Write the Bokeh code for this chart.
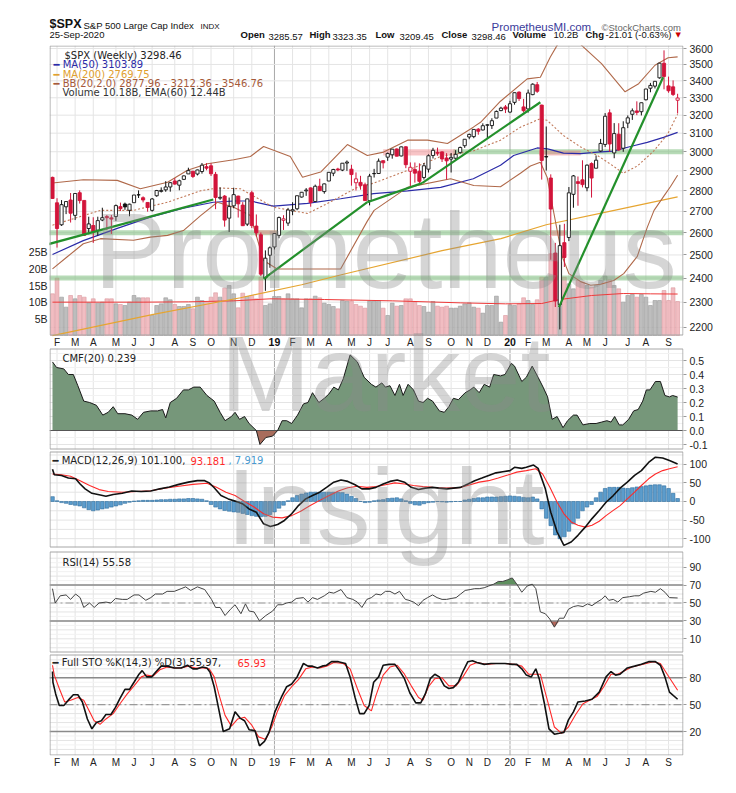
import numpy as np
import pandas as pd
from bokeh.plotting import figure
from bokeh.layouts import column
from bokeh.models import Range1d, FixedTicker, LinearAxis, LinearScale, LogScale, Label
from bokeh.embed import file_html
from bokeh.resources import INLINE
from bokeh.core.properties import value

# ---------------------------------------------------------------- data
week_end = pd.date_range("2018-02-02", periods=139, freq="W-FRI")
month_labels = ["F", "M", "A", "M", "J", "J", "A", "S", "O", "N", "D", "19",
                "F", "M", "A", "M", "J", "J", "A", "S", "O", "N", "D", "20",
                "F", "M", "A", "M", "J", "J", "A", "S"]
price_ticks = [2200, 2300, 2400, 2500, 2600, 2700, 2800, 2900, 3000, 3100, 3200, 3300, 3400, 3500, 3600]
vol_ticks = [5, 10, 15, 20, 25]
vol_tick_labels = ["5B", "10B", "15B", "20B", "25B"]
cmf_ticks = [-0.1, 0.0, 0.1, 0.2, 0.3, 0.4, 0.5]
macd_ticks = [-100, -50, 0, 50, 100]
rsi_ticks = [10, 30, 50, 70, 90]
sto_ticks = [20, 50, 80]

open_ = [2867.2, 2741.1, 2636.8, 2722.0, 2754.7, 2681.1, 2790.5, 2752.7, 2619.4, 2633.5,
         2611.3, 2659.0, 2675.4, 2669.4, 2675.5, 2722.7, 2735.4, 2705.1, 2741.7, 2780.2,
         2765.8, 2742.9, 2704.9, 2775.6, 2796.9, 2804.6, 2819.0, 2849.0, 2827.9, 2857.0,
         2884.7, 2898.4, 2884.2, 2896.9, 2921.8, 2926.3, 2882.5, 2763.8, 2773.9, 2667.9,
         2726.4, 2773.9, 2730.1, 2640.0, 2790.5, 2630.9, 2590.8, 2400.6, 2498.9, 2535.6,
         2588.1, 2657.9, 2644.9, 2702.3, 2712.4, 2769.3, 2799.8, 2814.4, 2747.6, 2822.6,
         2796.0, 2848.6, 2888.3, 2909.9, 2904.3, 2940.6, 2908.9, 2840.2, 2841.9, 2830.0,
         2751.5, 2885.8, 2886.8, 2952.7, 2971.4, 2983.8, 3014.8, 2977.7, 3026.3, 2898.1,
         2907.1, 2898.4, 2866.7, 2909.0, 2980.3, 2996.4, 2999.2, 2967.1, 2961.3, 2965.8,
         2996.5, 3032.1, 3079.0, 3081.2, 3122.0, 3117.4, 3143.9, 3141.9, 3183.6, 3226.1,
         3247.2, 3217.6, 3273.4, 3333.1, 3247.2, 3235.7, 3318.3, 3377.0, 3257.6, 2974.3,
         2863.9, 2508.6, 2290.7, 2555.0, 2578.3, 2782.5, 2845.6, 2854.7, 2815.0, 2937.8,
         2913.9, 3004.1, 3038.8, 3213.3, 2993.8, 3094.4, 3018.6, 3155.3, 3205.1, 3224.3,
         3219.8, 3288.3, 3356.0, 3368.7, 3418.1, 3507.4, 3370.0, 3364.2, 3285.57]
high = [2870.6, 2763.4, 2754.4, 2747.8, 2789.2, 2786.6, 2801.9, 2752.7, 2674.8, 2672.1,
        2674.7, 2717.5, 2682.9, 2682.9, 2732.9, 2742.2, 2742.1, 2736.9, 2779.9, 2801.9,
        2772.6, 2743.3, 2764.4, 2804.3, 2816.8, 2848.0, 2843.2, 2863.4, 2855.6, 2876.2,
        2916.5, 2900.2, 2906.8, 2940.9, 2939.9, 2939.9, 2894.8, 2816.9, 2778.9, 2766.9,
        2815.2, 2775.9, 2744.4, 2760.9, 2800.2, 2685.4, 2601.1, 2520.3, 2538.1, 2597.8,
        2675.5, 2681.8, 2716.7, 2744.0, 2775.7, 2794.2, 2813.5, 2816.9, 2830.7, 2860.3,
        2836.0, 2893.4, 2910.5, 2916.1, 2939.9, 2954.1, 2931.6, 2892.2, 2875.0, 2840.5,
        2884.9, 2910.6, 2964.2, 2955.4, 2995.8, 3013.9, 3017.8, 3028.0, 3029.3, 2944.0,
        2943.3, 2939.1, 2940.4, 2985.9, 3020.7, 3022.0, 3002.4, 2992.5, 2993.3, 3008.3,
        3027.4, 3066.9, 3097.8, 3120.5, 3127.6, 3154.3, 3150.6, 3182.7, 3226.7, 3247.9,
        3258.1, 3282.1, 3329.9, 3337.8, 3293.5, 3348.0, 3385.1, 3393.5, 3259.8, 3136.7,
        2882.6, 2553.9, 2637.0, 2641.4, 2818.6, 2879.2, 2871.6, 2954.9, 2933.0, 2944.2,
        2980.3, 3068.7, 3211.7, 3233.1, 3155.5, 3154.9, 3165.8, 3198.6, 3238.3, 3279.3,
        3272.0, 3352.5, 3387.9, 3399.5, 3509.4, 3588.1, 3425.6, 3402.9, 3323.35]
low = [2760.0, 2532.7, 2631.6, 2687.0, 2647.3, 2658.9, 2737.6, 2585.9, 2593.1, 2553.8,
       2586.3, 2653.6, 2612.7, 2594.6, 2655.2, 2701.9, 2707.4, 2676.8, 2741.7, 2764.6,
       2743.2, 2698.7, 2698.9, 2770.5, 2791.5, 2795.1, 2795.6, 2829.9, 2802.5, 2853.6,
       2884.7, 2864.1, 2876.9, 2886.1, 2903.3, 2874.0, 2710.5, 2755.5, 2628.2, 2603.5,
       2715.0, 2670.8, 2631.1, 2631.1, 2621.5, 2583.2, 2408.6, 2346.6, 2444.0, 2524.6,
       2574.7, 2612.9, 2631.6, 2681.8, 2705.6, 2766.7, 2775.1, 2722.3, 2746.0, 2798.7,
       2785.7, 2848.6, 2873.3, 2898.6, 2898.9, 2900.5, 2825.4, 2801.4, 2805.5, 2750.5,
       2728.8, 2866.3, 2884.8, 2912.8, 2952.2, 2963.4, 2975.6, 2975.3, 2914.1, 2822.1,
       2840.6, 2835.0, 2856.0, 2891.9, 2964.2, 2978.9, 2946.0, 2856.0, 2891.9, 2952.9,
       2988.9, 3020.3, 3066.9, 3072.4, 3091.4, 3115.0, 3070.3, 3123.0, 3183.6, 3222.6,
       3212.0, 3214.6, 3260.0, 3281.5, 3214.7, 3214.6, 3315.0, 3328.5, 2855.8, 2901.5,
       2478.9, 2280.5, 2191.9, 2447.5, 2562.0, 2717.4, 2727.1, 2816.8, 2797.5, 2766.6,
       2913.9, 2999.5, 3025.2, 2999.5, 2965.7, 3004.6, 2999.7, 3127.7, 3173.4, 3200.1,
       3198.6, 3284.5, 3332.1, 3354.7, 3413.4, 3349.6, 3329.2, 3310.5, 3209.45]
close = [2762.13, 2619.55, 2732.22, 2747.30, 2691.25, 2786.57, 2752.01, 2588.26, 2640.87, 2604.47,
         2656.30, 2670.14, 2669.91, 2663.42, 2727.72, 2712.97, 2721.33, 2734.62, 2779.03, 2779.66,
         2754.88, 2718.37, 2759.82, 2801.31, 2801.83, 2818.82, 2840.35, 2833.28, 2850.13, 2874.69,
         2901.52, 2871.68, 2904.98, 2929.67, 2913.98, 2885.57, 2767.13, 2767.78, 2658.69, 2723.06,
         2781.01, 2736.27, 2632.56, 2760.17, 2633.08, 2599.95, 2416.62, 2485.74, 2531.94, 2596.26,
         2670.71, 2664.76, 2706.53, 2707.88, 2775.60, 2792.67, 2803.69, 2743.07, 2822.48, 2800.71,
         2834.40, 2892.74, 2907.41, 2905.03, 2939.88, 2945.64, 2881.40, 2859.53, 2826.06, 2752.06,
         2873.34, 2886.98, 2950.46, 2941.76, 2990.41, 3013.77, 2976.61, 3025.86, 2932.05, 2918.65,
         2888.68, 2847.11, 2926.46, 2978.71, 3007.39, 2992.07, 2961.79, 2952.01, 2970.27, 2986.20,
         3022.55, 3066.91, 3093.08, 3120.46, 3110.29, 3140.98, 3145.91, 3168.80, 3221.22, 3240.02,
         3234.85, 3265.35, 3329.62, 3295.47, 3225.52, 3327.71, 3380.16, 3337.75, 2954.22, 2972.37,
         2711.02, 2304.92, 2541.47, 2488.65, 2789.82, 2874.56, 2836.74, 2830.71, 2929.80, 2863.70,
         2955.45, 3044.31, 3193.93, 3041.31, 3097.74, 3009.05, 3130.01, 3185.04, 3224.73, 3215.63,
         3271.12, 3351.28, 3372.85, 3397.16, 3508.01, 3426.96, 3340.97, 3319.47, 3298.46]
volume_b = [12.5, 17.2, 11.5, 8.5, 12.0, 11.0, 12.0, 11.5, 9.8, 11.0,
            9.7, 10.0, 11.0, 11.0, 9.5, 9.3, 9.0, 10.0, 12.0, 11.3,
            11.3, 11.3, 6.0, 9.0, 9.5, 11.3, 10.7, 9.3, 8.7, 8.7,
            9.3, 8.0, 11.5, 10.5, 10.0, 11.5, 12.8, 11.5, 14.2, 15.0,
            12.5, 8.3, 12.7, 11.7, 12.0, 11.0, 17.5, 9.0, 9.5, 11.7,
            11.7, 11.0, 12.5, 11.0, 11.0, 8.3, 11.0, 11.0, 11.8, 11.3,
            9.7, 9.3, 8.7, 8.0, 10.5, 10.3, 10.3, 9.3, 8.8, 8.2,
            10.3, 10.3, 10.5, 8.2, 6.0, 9.7, 8.8, 9.0, 11.0, 11.0,
            10.0, 9.0, 8.7, 7.0, 10.2, 8.8, 8.5, 8.8, 8.2, 8.2,
            8.8, 9.5, 9.8, 8.5, 8.2, 6.7, 9.0, 9.0, 11.8, 4.0,
            6.0, 9.2, 9.0, 9.5, 11.3, 10.5, 9.3, 10.7, 17.5, 17.5,
            24.5, 22.5, 22.0, 17.5, 15.5, 14.0, 16.5, 16.0, 15.0, 14.5,
            15.0, 16.5, 17.8, 16.7, 15.0, 14.0, 10.0, 12.0, 12.3, 11.5,
            12.3, 11.5, 9.0, 10.5, 10.5, 13.5, 10.5, 14.3, 10.2]
vema_x = [0, 20, 30, 40, 48, 60, 75, 90, 100, 108, 112, 119, 126, 132, 138]
vema_v = [10.0, 10.0, 10.1, 10.4, 11.0, 10.8, 10.4, 9.8, 9.5, 9.6, 10.8, 12.0, 12.6, 12.5, 12.44]

ma50_x = [0, 6.8, 14.3, 21.6, 28.9, 35.5, 40, 43.7, 48.8, 56.3, 63.6, 70.9, 78.4, 85.7, 92.9, 98.9,
          101.8, 107, 109.3, 112.8, 116.6, 120.3, 123.8, 127.6, 131.3, 134.9, 138]
ma50_v = [2502, 2564, 2620, 2673, 2715, 2744, 2750, 2750, 2725, 2738, 2761, 2786, 2800, 2817, 2860, 2929,
          2980, 3020, 3015, 2993, 2990, 2998, 3003, 3028, 3050, 3077, 3104]
ma200_x = [0, 22, 41.5, 55, 64, 86, 99, 109, 124, 138]
ma200_v = [2168, 2250, 2318, 2372, 2415, 2519, 2573, 2637, 2705, 2770]
bbu_x = [0, 6.8, 14.3, 19.4, 25.4, 29.8, 34.2, 40, 43.7, 46.6, 52.5, 55.2, 59.2, 65.1, 69.5, 73.1,
         78.4, 82.8, 87.2, 92.9, 94.5, 98.9, 104.8, 107.7, 109.9, 111.4, 113.7, 116.8, 121.2, 126.4,
         129.4, 133.0, 135.9, 138]
bbu_v = [2839, 2855, 2852, 2810, 2843, 2903, 2937, 2958, 2975, 3028, 2975, 2868, 2894, 3038, 2980, 2998,
         3062, 3062, 3044, 3133, 3160, 3280, 3412, 3422, 3546, 3620, 3720, 3620, 3505, 3335,
         3383, 3495, 3542, 3547]
bbl_x = [0, 3.2, 6.8, 10.6, 17.9, 21.6, 25.4, 28.9, 32.7, 36.4, 40, 43.7, 46.6, 49.6, 63.6, 69.5, 71,
         78.4, 87.9, 93, 98.9, 103.3, 105.5, 107.7, 109.2, 110.7, 112.5, 114, 116.6, 118.8, 121,
         123.9, 126.1, 129.1, 131.3, 132.8, 135, 136.4, 138]
bbl_v = [2439, 2491, 2550, 2573, 2566, 2580, 2588, 2610, 2680, 2744, 2720, 2680, 2476, 2439, 2439, 2654, 2705,
         2817, 2860, 2826, 2820, 2888, 2925, 2945, 2868, 2690, 2494, 2419, 2385, 2370, 2374,
         2390, 2419, 2494, 2625, 2705, 2775, 2820, 2878]
bbm_x = [0, 10.6, 17.9, 25.4, 32.7, 36.4, 41.5, 48.8, 56.3, 60.7, 67.3, 70.9, 78.4, 85.7, 93, 98.9,
         103.3, 107.7, 109.2, 112.8, 116.6, 120.3, 123.8, 126, 129.1, 132.7, 135.8, 138]
bbm_v = [2635, 2705, 2705, 2744, 2800, 2814, 2810, 2720, 2690, 2738, 2817, 2838, 2903, 2975, 3005, 3062,
         3133, 3180, 3171, 3087, 3025, 2980, 2925, 2888, 2925, 3003, 3095, 3205]

trend_x0 = [-4.2, 46.6, 69.5, 81.6, 111.8]
trend_p0 = [2530, 2397, 2744, 2838, 2280]
trend_x1 = [35.5, 69.5, 81.6, 107.7, 134.8]
trend_p1 = [2757, 2744, 2838, 3274, 3422]
band_price = [2400, 2600, 3000]
band_x0 = [-1, -1, 88.5]
band_x1 = [140, 140, 140]
zone_left = [73, 45, 107.4, 110.3]
zone_right = [89, 49.5, 116.6, 113]
zone_bottom = [2980, 2592, 2980, 2585]
zone_top = [3013, 2612, 3007, 2610]

cmf_x = [0, 0.9, 2.5, 3.5, 4.6, 5.6, 6.9, 8.2, 9.7, 11.1, 12.3, 13.4, 14.4, 16.0, 17.5, 18.8, 20.1, 21.7,
         23.2, 24.3, 25.0, 26.0, 27.4, 28.9, 30.0, 31.2, 32.6, 34.1, 35.7, 37.0, 38.1, 39.5, 40.3, 41.3,
         42.4, 43.4, 45.0, 45.8, 47.1, 48.6, 49.7, 50.7, 51.7, 52.8, 54.1, 55.4, 56.4, 57.4, 58.8, 60.0,
         61.0, 62.1, 63.1, 64.2, 65.7, 67.3, 68.8, 70.4, 71.4, 72.7, 73.5, 74.5, 75.6, 76.6, 77.4, 78.5,
         79.7, 80.8, 81.8, 82.8, 83.9, 85.4, 86.5, 87.5, 88.5, 89.6, 91.1, 92.2, 93.0, 94.2, 95.3, 96.5,
         97.4, 98.9, 99.9, 101.3, 102.0, 103.6, 104.6, 105.9, 107.2, 108.3, 109.3, 110.3, 111.4, 112.7,
         113.7, 115.0, 115.8, 117.1, 118.6, 120.0, 121.2, 122.4, 123.3, 124.1, 125.1, 125.9, 127.2, 128.3,
         129.3, 130.3, 131.1, 131.9, 133.1, 134.2, 135.2, 136.2, 136.9, 138]
cmf_v = [0.49, 0.45, 0.44, 0.40, 0.40, 0.32, 0.21, 0.20, 0.18, 0.11, 0.13, 0.17, 0.12, 0.12, 0.11, 0.08, 0.13, 0.14,
         0.14, 0.15, 0.09, 0.20, 0.23, 0.29, 0.29, 0.31, 0.31, 0.25, 0.21, 0.13, 0.07, 0.10, 0.13, 0.08,
         0.10, 0.05, 0.0, -0.10, -0.05, -0.04, 0.0, 0.07, 0.07, 0.05, 0.11, 0.19, 0.20, 0.27, 0.20, 0.23,
         0.26, 0.31, 0.29, 0.37, 0.54, 0.49, 0.38, 0.33, 0.31, 0.34, 0.31, 0.32, 0.25, 0.33, 0.25, 0.33,
         0.29, 0.21, 0.20, 0.23, 0.21, 0.14, 0.13, 0.17, 0.23, 0.22, 0.27, 0.29, 0.31, 0.27, 0.33, 0.31,
         0.40, 0.39, 0.40, 0.48, 0.46, 0.35, 0.38, 0.46, 0.38, 0.31, 0.24, 0.08, 0.10, 0.02,
         0.07, 0.11, 0.11, 0.04, 0.05, 0.05, 0.06, 0.07, 0.06, 0.10, 0.04, 0.04, 0.08, 0.14,
         0.15, 0.21, 0.29, 0.29, 0.35, 0.35, 0.25, 0.24, 0.25, 0.239]

macd_x = [0, 0.4, 2.0, 3.5, 5.1, 6.1, 7.2, 8.7, 10.3, 11.8, 13.4, 15.4, 17.5, 19.6, 21.7, 23.7, 25.8, 27.9,
          30.0, 32.0, 33.6, 34.6, 35.7, 37.2, 38.8, 40.3, 41.9, 43.4, 45.0, 46.6, 48.1, 49.7, 51.2, 52.8,
          54.3, 55.9, 57.4, 59.0, 60.5, 62.1, 63.7, 65.2, 66.8, 68.3, 69.9, 71.4, 73.0, 74.5, 76.1, 77.7,
          79.2, 80.8, 82.3, 83.9, 85.4, 87.0, 88.5, 90.1, 91.7, 93.2, 94.8, 96.3, 97.9, 99.4, 101.0, 102.0,
          103.6, 104.6, 106.2, 107.2, 108.8, 110.0, 111.4, 112.9, 114.5, 116.0, 117.6, 119.1, 120.7, 122.2,
          123.8, 125.3, 126.9, 128.5, 130.0, 131.6, 133.1, 134.7, 136.2, 138]
macd_v = [87, 72, 70, 63, 61, 47, 34, 22, 18, 14, 19, 22, 28, 27, 28, 34, 39, 46,
          52, 56, 56, 50, 37, 16, 7, 1, -6, -20, -29, -60, -67, -62, -51, -33,
          -11, 7, 16, 25, 38, 52, 58, 54, 45, 34, 34, 38, 47, 54, 58, 52,
          38, 32, 36, 38, 36, 34, 36, 38, 47, 56, 63, 70, 77, 80, 83, 92,
          89, 92, 98, 89, 34, -29, -82, -118, -109, -91, -69, -46, -24, -2,
          16, 36, 52, 70, 83, 105, 119, 117, 110, 101.1]
signal_x = [0, 2.0, 4.0, 6.1, 8.2, 10.3, 12.3, 15.4, 18.6, 21.7, 24.8, 27.9, 31.0, 34.1, 36.2, 38.3, 40.3,
            42.4, 44.5, 46.6, 48.6, 50.7, 52.8, 54.8, 56.9, 59.0, 61.1, 63.1, 65.2, 67.3, 69.4, 71.4, 73.5,
            75.6, 77.7, 79.7, 81.8, 83.9, 86.0, 88.0, 90.1, 92.2, 94.2, 96.3, 98.4, 100.5, 102.5, 104.6,
            106.7, 108.2, 109.8, 111.4, 112.9, 114.5, 116.0, 117.6, 119.1, 120.7, 122.2, 123.8, 125.3,
            126.9, 128.5, 130.0, 131.6, 133.1, 134.7, 136.2, 138]
signal_v = [74, 72, 68, 56, 43, 32, 27, 25, 27, 29, 36, 41, 46, 49, 38, 25, 16,
            0, -15, -33, -42, -44, -38, -26, -11, 3, 16, 28, 37, 41, 38, 40, 45,
            50, 47, 43, 40, 38, 37, 36, 38, 45, 52, 56, 63, 71, 79, 83,
            88, 74, 38, -2, -33, -55, -64, -69, -64, -53, -38, -24, -11,
            7, 25, 43, 61, 74, 83, 88, 93.2]
macd_hist = [13, 2, -3, -5, -8, -10, -12, -17, -22, -25,
             -23, -20, -18, -15, -12, -9, -5, -2, 1, 2,
             3, 3, 3, 4, 5, 5, 6, 6, 7, 7,
             8, 8, 7, 6, 2, -8, -15, -20, -24, -26,
             -28, -29, -32, -35, -38, -40, -41, -40, -35, -28,
             -18, -10, 2, 10, 16, 20, 23, 25, 25, 25,
             25, 25, 25, 25, 24, 20, 14, 8, 0, -3,
             -2, 2, 4, 5, 8, 9, 10, 7, 2, -5,
             -9, -10, -6, -3, -2, 0, -1, -2, -1, 0,
             0, 4, 6, 8, 10, 10, 12, 12, 12, 13,
             14, 15, 14, 13, 11, 10, 12, 7, -20, -45,
             -65, -90, -100, -95, -80, -60, -45, -25, -15, -8,
             10, 25, 35, 38, 38, 38, 36, 35, 37, 39,
             40, 42, 44, 45, 45, 42, 35, 22, 8]

rsi_x = [0, 0.6, 1.7, 3.0, 4.0, 5.1, 6.1, 6.9, 8.2, 9.2, 10.3, 11.8, 12.9, 13.9, 15.4, 16.5, 18.0, 19.1,
         20.6, 21.7, 22.7, 24.3, 25.3, 26.9, 28.4, 29.4, 30.5, 32.0, 33.6, 35.1, 36.0, 37.0, 38.1, 39.3,
         40.3, 41.6, 42.6, 43.4, 44.5, 45.7, 47.1, 48.6, 49.7, 50.7, 51.7, 52.8, 53.8, 55.4, 56.4, 57.4,
         58.5, 60.0, 61.1, 62.1, 63.7, 65.0, 66.3, 67.3, 68.3, 69.4, 70.4, 71.4, 72.5, 73.5, 74.5, 75.6,
         76.6, 77.9, 78.7, 79.7, 80.8, 81.8, 82.8, 83.9, 84.9, 86.0, 87.0, 88.0, 89.1, 90.1, 91.1, 92.2,
         93.2, 94.2, 95.3, 96.3, 97.4, 98.4, 99.4, 100.5, 101.5, 102.5, 103.6, 104.8, 105.9, 106.7, 107.7,
         108.8, 109.8, 110.8, 111.9, 112.9, 113.9, 115.0, 116.0, 117.1, 118.1, 119.1, 120.2, 121.2, 122.0,
         122.8, 123.8, 124.8, 125.9, 127.4, 128.5, 129.5, 130.5, 132.1, 133.1, 134.2, 135.2, 136.2, 138]
rsi_v = [66, 50, 58, 59, 54, 60, 56, 45, 50, 45, 50, 51, 50, 55, 54, 54, 59, 59,
         53, 56, 60, 60, 63, 63, 66, 68, 64, 68, 65, 54, 45, 45, 36, 43,
         48, 38, 49, 41, 40, 30, 36, 41, 48, 48, 50, 51, 55, 56, 51, 56,
         54, 58, 62, 61, 65, 56, 54, 51, 45, 54, 56, 60, 59, 63, 63, 60,
         63, 54, 53, 51, 47, 53, 56, 59, 56, 54, 54, 55, 56, 60, 64, 65,
         66, 66, 67, 69, 71, 74, 74, 76, 78, 71, 62, 69, 71, 66, 40,
         38, 32, 23, 33, 33, 43, 46, 47, 46, 49, 47, 51, 54, 58,
         53, 54, 51, 56, 57, 58, 58, 61, 63, 62, 66, 62, 56, 55.6]

stok_x = [0, 0.1, 0.7, 1.5, 2.5, 3.5, 4.6, 5.6, 6.6, 7.7, 8.7, 9.7, 10.8, 11.8, 12.9, 13.9, 14.9, 16.0,
          17.0, 18.0, 19.1, 19.8, 20.8, 21.9, 22.9, 24.0, 25.3, 26.9, 28.4, 29.8, 31.0, 32.0, 33.1, 34.1,
          34.8, 35.7, 36.7, 37.7, 39.1, 40.3, 41.4, 42.4, 43.4, 44.7, 45.7, 46.8, 47.8, 49.1, 50.5, 51.7,
          52.8, 54.0, 55.4, 56.4, 57.4, 58.5, 59.5, 60.5, 61.6, 63.1, 64.7, 65.7, 66.8, 67.8, 68.8, 69.9,
          70.9, 72.0, 73.0, 74.3, 75.6, 76.6, 77.7, 78.9, 80.2, 81.3, 82.3, 83.4, 84.4, 85.4, 86.5, 87.5,
          88.5, 89.6, 90.6, 91.7, 92.7, 93.7, 95.3, 96.8, 98.4, 99.9, 101.5, 102.5, 103.6, 104.6, 105.7,
          106.7, 107.5, 108.6, 109.6, 110.8, 111.9, 112.9, 113.9, 115.0, 116.0, 117.6, 119.1, 120.7,
          122.2, 123.3, 124.3, 125.3, 126.9, 128.5, 130.0, 131.6, 133.1, 134.2, 135.2, 136.2, 138]
stok_v = [87, 75, 62, 49, 49, 55, 61, 61, 53, 34, 23, 30, 32, 39, 39, 47, 57, 67,
          67, 75, 84, 88, 81, 81, 87, 93, 93, 91, 91, 94, 90, 90, 92, 91,
          86, 70, 45, 20, 23, 42, 35, 32, 22, 21, 4, 9, 19, 42, 58, 70,
          73, 81, 96, 93, 93, 91, 93, 94, 98, 98, 96, 81, 58, 40, 40, 49,
          75, 81, 94, 95, 95, 88, 79, 63, 52, 52, 62, 79, 84, 81, 71, 68,
          69, 75, 87, 98, 99, 97, 95, 96, 96, 96, 95, 95, 90, 83, 81,
          90, 78, 51, 23, 17, 18, 19, 33, 42, 53, 54, 56, 64,
          81, 87, 83, 84, 91, 93, 95, 98, 98, 94, 81, 64, 56]
stod_x = [0, 0.4, 1.5, 2.7, 4.0, 5.6, 6.9, 8.2, 9.2, 10.5, 11.8, 13.4, 14.9, 16.5, 18.0, 19.6, 20.8, 22.2,
          23.7, 25.3, 26.9, 28.4, 30.0, 31.5, 33.3, 34.6, 35.7, 36.7, 38.1, 39.5, 40.9, 42.4, 44.0, 45.5,
          47.1, 48.4, 49.7, 51.2, 52.8, 54.3, 55.9, 57.4, 59.0, 60.5, 62.1, 64.2, 65.7, 67.3, 68.8, 70.4,
          71.4, 73.0, 74.5, 76.1, 77.7, 79.2, 80.8, 81.8, 83.0, 84.4, 86.0, 87.5, 89.1, 90.6, 92.2, 93.7,
          95.8, 97.9, 99.9, 102.0, 103.6, 105.1, 106.5, 107.7, 109.3, 110.8, 112.4, 113.9, 115.5, 117.1,
          118.6, 120.2, 121.7, 123.3, 124.8, 126.4, 127.9, 129.5, 131.1, 132.6, 134.2, 135.7, 138]
stod_v = [94, 83, 68, 53, 55, 58, 55, 42, 32, 28, 34, 40, 51, 62, 71, 81, 83, 82,
          89, 92, 91, 91, 93, 91, 91, 90, 81, 62, 38, 26, 34, 36, 27, 14,
          11, 25, 43, 60, 70, 78, 90, 92, 91, 93, 97, 96, 90, 68, 49, 43,
          60, 83, 92, 94, 84, 71, 58, 55, 70, 79, 80, 71, 71, 81, 94, 97,
          95, 96, 96, 95, 93, 84, 84, 84, 54, 25, 18, 25, 39, 51,
          55, 59, 70, 84, 84, 88, 92, 94, 96, 98, 96, 84, 66]

# ---------------------------------------------------------------- layout / style
FONT = "Liberation Sans"
LFONT = "DejaVu Sans"
RED = "#d2143a"
GRID = "#e4e4e4"
MINOR = "#f2f2f2"
W, LB, RB = 728, 49, 45
HDR_H = 42
X0, X1 = -0.66, 139.3
XR = Range1d(X0, X1)
F_TOP, F_BOT = 45.0, 755.0          # page-pixel span of the chart frame
# panel: page top, page bottom, value at top, value at bottom, log scale
PANEL = {
    "price": (45.0, 335.0, 3619.1, 2168.5, True),
    "vol": (45.0, 335.0, 87.0, 0.0, False),
    "cmf": (348.0, 449.0, 0.5857, -0.1357, False),
    "macd": (451.0, 547.0, 134.4, -123.7, False),
    "rsi": (551.0, 652.0, 107.5, -5.3, False),
    "sto": (654.0, 755.0, 106.0, -6.8, False),
}


def _f(v, lg):
    return np.log10(v) if lg else v


def _i(v, lg):
    return 10 ** v if lg else v


def ext_range(name):
    pt, pb, vt, vb, lg = PANEL[name]
    a, b = _f(vt, lg), _f(vb, lg)
    k = (a - b) / (pb - pt)
    return Range1d(_i(b - (F_BOT - pb) * k, lg), _i(a + (pt - F_TOP) * k, lg))


def page_y(name, v):
    pt, pb, vt, vb, lg = PANEL[name]
    a, b = _f(vt, lg), _f(vb, lg)
    return round(float(pt + (a - _f(v, lg)) / (a - b) * (pb - pt)), 2)


monday = week_end - pd.Timedelta(days=4)
month_tick_idx = [i for i in range(1, len(week_end)) if monday[i].month != monday[i - 1].month]
year_tick_idx = [t for t, lab in zip(month_tick_idx, month_labels) if lab.isdigit()]

# ---------------------------------------------------------------- header (x = page px, y = HDR_H - page px)
hdr = figure(width=W, height=HDR_H, x_range=Range1d(LB, W - RB), y_range=Range1d(0, HDR_H),
             output_backend="svg", toolbar_location=None, min_border_left=LB, min_border_right=RB,
             min_border_top=0, min_border_bottom=0, x_axis_location=None, y_axis_location=None)
hdr.outline_line_color = None
hdr.grid.visible = False
ROW = 2.5


def htext(xs_, ys_, texts, size, color="#111111", style="normal", font=FONT):
    hdr.text(x=xs_, y=ys_, text=texts, text_font=value(font), text_font_size=size,
             text_font_style=style, text_color=color)


htext([49], [12], ["$SPX"], "12.5px", style="bold")
htext([83], [12], ["S&P 500 Large Cap Index"], "9.5px")
htext([200], [12], ["INDX"], "8px")
htext([49], [ROW], ["25-Sep-2020"], "9.5px")
htext([240, 309, 375, 441, 512, 585], [ROW] * 6, ["Open", "High", "Low", "Close", "Volume", "Chg"],
      "9.5px", style="bold")
htext([268, 332, 399, 471, 553, 605], [ROW] * 6,
      ["3285.57", "3323.35", "3209.45", "3298.46", "10.2B", "-21.01 (-0.63%)"], "9.5px")
htext([675], [ROW + 1], ["▼"], "7px", color="#cc0000", font=LFONT)
htext([491], [10], ["PrometheusMI.com"], "11.5px", color="#3b3b9b")
htext([601], [10], ["©StockCharts.com"], "9.5px", color="#666666")

# ---------------------------------------------------------------- chart figure with stacked panels
p = figure(width=W, height=776 - HDR_H, x_range=XR, y_range=Range1d(F_BOT, F_TOP), y_axis_location="right",
           output_backend="svg", toolbar_location=None, min_border_left=LB, min_border_right=RB,
           min_border_top=int(F_TOP) - HDR_H, min_border_bottom=21)
p.grid.visible = False
p.outline_line_color = None
p.background_fill_color = "white"
p.border_fill_color = "white"
p.extra_y_ranges = {k: ext_range(k) for k in PANEL}
p.extra_y_scales = {k: (LogScale() if PANEL[k][4] else LinearScale()) for k in PANEL}

# right axis: every panel's ticks on one axis
right_ticks, right_labels = [], {}
for name, ticks, fmt in [("price", price_ticks, "{:d}"), ("cmf", cmf_ticks, "{:.1f}"),
                         ("macd", macd_ticks, "{:d}"), ("rsi", rsi_ticks, "{:d}"), ("sto", sto_ticks, "{:d}")]:
    for t in ticks:
        yy = page_y(name, t)
        right_ticks.append(yy)
        right_labels[yy] = fmt.format(t)
ax = p.yaxis[0]
ax.ticker = FixedTicker(ticks=right_ticks, minor_ticks=[])
ax.major_label_overrides = right_labels
ax.axis_line_color = None
ax.major_tick_in = 0
ax.major_tick_out = 3
ax.major_tick_line_color = "#999999"
ax.minor_tick_line_color = None
ax.major_label_standoff = 3
ax.major_label_text_font = FONT
ax.major_label_text_font_size = "10.5px"
ax.major_label_text_color = "#222222"

# left axis: volume scale
vt_pos = [page_y("vol", t) for t in vol_ticks]
vax = LinearAxis(ticker=FixedTicker(ticks=vt_pos, minor_ticks=[]),
                 major_label_overrides={yy: s for yy, s in zip(vt_pos, vol_tick_labels)})
vax.axis_line_color = None
vax.major_tick_line_color = None
vax.minor_tick_line_color = None
vax.major_tick_out = 0
vax.major_tick_in = 0
vax.major_label_standoff = 2
vax.major_label_text_font = FONT
vax.major_label_text_font_size = "10.5px"
vax.major_label_text_color = "#222222"
p.add_layout(vax, "left")

# bottom axis: months
xa = p.xaxis[0]
xa.ticker = FixedTicker(ticks=month_tick_idx, minor_ticks=[])
xa.major_label_overrides = {int(t): lab for t, lab in zip(month_tick_idx, month_labels)}
xa.axis_line_color = None
xa.major_tick_line_color = None
xa.minor_tick_line_color = None
xa.major_tick_out = 0
xa.major_tick_in = 0
xa.major_label_standoff = 1
xa.major_label_text_font = FONT
xa.major_label_text_font_size = "10px"
xa.major_label_text_color = "#222222"

# ---- grids
panels = ["price", "cmf", "macd", "rsi", "sto"]
for name in panels:
    pt, pb = PANEL[name][0], PANEL[name][1]
    mt = [t for t in month_tick_idx if t not in year_tick_idx]
    p.segment(x0=mt, x1=mt, y0=[pt] * len(mt), y1=[pb] * len(mt), line_color=GRID, line_width=1)
    p.segment(x0=year_tick_idx, x1=year_tick_idx, y0=[pt] * len(year_tick_idx), y1=[pb] * len(year_tick_idx),
              line_color="#a9a9a9", line_width=1)

hgrid = {
    "price": (price_ticks, []),
    "cmf": (cmf_ticks, [-0.05, 0.05, 0.15, 0.25, 0.35, 0.45, 0.55]),
    "macd": ([-100, -75, -50, -25, 0, 25, 50, 75, 100, 125], []),
    "rsi": (list(range(0, 101, 10)), list(range(5, 100, 10))),
    "sto": (list(range(0, 101, 10)), list(range(5, 100, 10))),
}
for name, (major, minor) in hgrid.items():
    if minor:
        p.segment(x0=[X0] * len(minor), x1=[X1] * len(minor), y0=minor, y1=minor, y_range_name=name,
                  line_color=MINOR, line_width=1)
    p.segment(x0=[X0] * len(major), x1=[X1] * len(major), y0=major, y1=major, y_range_name=name,
              line_color=GRID, line_width=1)

# ---- price panel
xs = np.arange(len(close))
o = np.array(open_)
c = np.array(close)
hi = np.array(high)
lo = np.array(low)
prev = np.concatenate([[o[0]], c[:-1]])
down = c < prev
edge = np.where(down, RED, "#111111")
fill = np.where(c > o, "white", edge)

p.vbar(x=xs, width=0.84, top=volume_b, bottom=0, y_range_name="vol",
       fill_color=np.where(down, "#efb1b7", "#b3b3b3"), line_color=np.where(down, "#dc98a0", "#9a9a9a"),
       fill_alpha=0.85, line_width=0.6)
p.line(vema_x, vema_v, y_range_name="vol", line_color="#ee3a3a", line_width=1)

p.segment(x0=band_x0, y0=band_price, x1=band_x1, y1=band_price, y_range_name="price",
          line_color="#6fb86f", line_width=5, line_alpha=0.5)
p.quad(left=zone_left, right=zone_right, bottom=zone_bottom, top=zone_top, y_range_name="price",
       fill_color="#f07c80", fill_alpha=0.45, line_color=None)

p.line(ma200_x, ma200_v, y_range_name="price", line_color="#e6a531", line_width=1.2)
p.line(ma50_x, ma50_v, y_range_name="price", line_color="#2b2ba8", line_width=1.2)
p.line(bbu_x, bbu_v, y_range_name="price", line_color="#b0694a", line_width=1.1)
p.line(bbl_x, bbl_v, y_range_name="price", line_color="#b0694a", line_width=1.1)
p.line(bbm_x, bbm_v, y_range_name="price", line_color="#c07858", line_width=1.1, line_dash="2 2")

p.segment(x0=xs, y0=lo, x1=xs, y1=hi, y_range_name="price", line_color=edge, line_width=1)
p.vbar(x=xs, width=0.7, top=np.maximum(o, c), bottom=np.minimum(o, c), y_range_name="price",
       fill_color=fill, line_color=edge, line_width=0.9)
p.segment(x0=trend_x0, y0=trend_p0, x1=trend_x1, y1=trend_p1, y_range_name="price",
          line_color="#23902b", line_width=2.2)

# month labels under the price panel
norm = [(t, lab) for t, lab in zip(month_tick_idx, month_labels) if not lab.isdigit()]
yrs = [(t, lab) for t, lab in zip(month_tick_idx, month_labels) if lab.isdigit()]
p.text(x=[t for t, _ in norm], y=[341.5] * len(norm), text=[lab for _, lab in norm],
       text_align="center", text_baseline="middle", text_font=value(FONT), text_font_size="10px",
       text_color="#222222")
p.text(x=[t for t, _ in yrs], y=[341.5] * len(yrs), text=[lab for _, lab in yrs],
       text_align="center", text_baseline="middle", text_font=value(FONT), text_font_size="10.5px",
       text_font_style="bold", text_color="#111111")

# ---- CMF
cv = np.array(cmf_v)
p.varea(x=cmf_x, y1=0, y2=np.clip(cv, 0, None), y_range_name="cmf", fill_color="#76977a")
p.varea(x=cmf_x, y1=0, y2=np.clip(cv, None, 0), y_range_name="cmf", fill_color="#a86c5c")
p.segment(x0=[X0], x1=[X1], y0=[0], y1=[0], y_range_name="cmf", line_color="#555555", line_width=1)
p.line(cmf_x, cmf_v, y_range_name="cmf", line_color="#1a1a1a", line_width=1)

# ---- MACD
p.vbar(x=xs, width=0.8, top=macd_hist, bottom=0, y_range_name="macd",
       fill_color="#5b9ccc", line_color="#2f6d9e", line_width=0.6)
p.line(signal_x, signal_v, y_range_name="macd", line_color="#ff2a2a", line_width=1.1)
p.line(macd_x, macd_v, y_range_name="macd", line_color="#111111", line_width=1.6)

# ---- RSI
rv = np.array(rsi_v)
p.varea(x=rsi_x, y1=70, y2=np.maximum(rv, 70), y_range_name="rsi", fill_color="#5f905f")
p.varea(x=rsi_x, y1=30, y2=np.minimum(rv, 30), y_range_name="rsi", fill_color="#b4665a")
p.segment(x0=[X0, X0], x1=[X1, X1], y0=[70, 30], y1=[70, 30], y_range_name="rsi",
          line_color="#8a8a8a", line_width=1.5)
p.segment(x0=[X0], x1=[X1], y0=[50], y1=[50], y_range_name="rsi", line_color="#9a9a9a",
          line_width=1.2, line_dash="8 3 2 3")
p.line(rsi_x, rsi_v, y_range_name="rsi", line_color="#444444", line_width=1)

# ---- Full STO
p.segment(x0=[X0, X0], x1=[X1, X1], y0=[80, 20], y1=[80, 20], y_range_name="sto",
          line_color="#8a8a8a", line_width=1.5)
p.segment(x0=[X0], x1=[X1], y0=[50], y1=[50], y_range_name="sto", line_color="#9a9a9a",
          line_width=1.2, line_dash="8 3 2 3")
p.line(stod_x, stod_v, y_range_name="sto", line_color="#ff2a2a", line_width=1.1)
p.line(stok_x, stok_v, y_range_name="sto", line_color="#111111", line_width=1.6)

# ---- panel boxes
boxes = [(PANEL[n][0], PANEL[n][1]) for n in panels]
p.quad(left=[X0 + 0.12] * 5, right=[X1 - 0.12] * 5, top=[b[0] + 0.5 for b in boxes],
       bottom=[b[1] - 0.5 for b in boxes], fill_color=None, line_color="#a6a6a6", line_width=1)


# ---- texts inside the frame (screen units, from the frame's bottom-left corner)
def mark(text, x, y, color="#222222", size="10px", font=LFONT):
    p.add_layout(Label(x=x, y=y, x_units="screen", y_units="screen", text=text,
                       text_font=font, text_font_size=size, text_color=color,
                       text_baseline="alphabetic", text_align="left"))


def watermark(word, y):
    p.add_layout(Label(x=336, y=y, x_units="screen", y_units="screen", text=word,
                       text_align="center", text_baseline="alphabetic", text_font=FONT,
                       text_font_size="108px", text_color="#8a8a8a", text_alpha=0.36))


watermark("Prometheus", 505)
watermark("Market", 382)
watermark("Insight", 249)

mark("$SPX (Weekly) 3298.46", 15, 700)
mark("━ MA(50) 3103.89", 4, 691, "#2b2ba8")
mark("━ MA(200) 2769.75", 4, 681, "#e0a030")
mark("━ BB(20,2.0) 2877.96 - 3212.36 - 3546.76", 4, 672, "#a65a3a")
mark("Volume 10.18B, EMA(60) 12.44B", 13, 663, "#333333")
mark("CMF(20) 0.239", 13, 397)
mark("━ MACD(12,26,9) 101.100,", 3, 295)
mark("93.181", 141, 295, "#ff2a2a")
mark(", 7.919", 179, 295, "#4a9ad0")
mark("RSI(14) 55.58", 13, 193)
mark("━ Full STO %K(14,3) %D(3) 55.97,", 3, 93)
mark("65.93", 188, 93, "#ff2a2a")

layout = column(hdr, p, spacing=0)
open("out.html", "w").write(file_html(layout, INLINE, "SPX"))
